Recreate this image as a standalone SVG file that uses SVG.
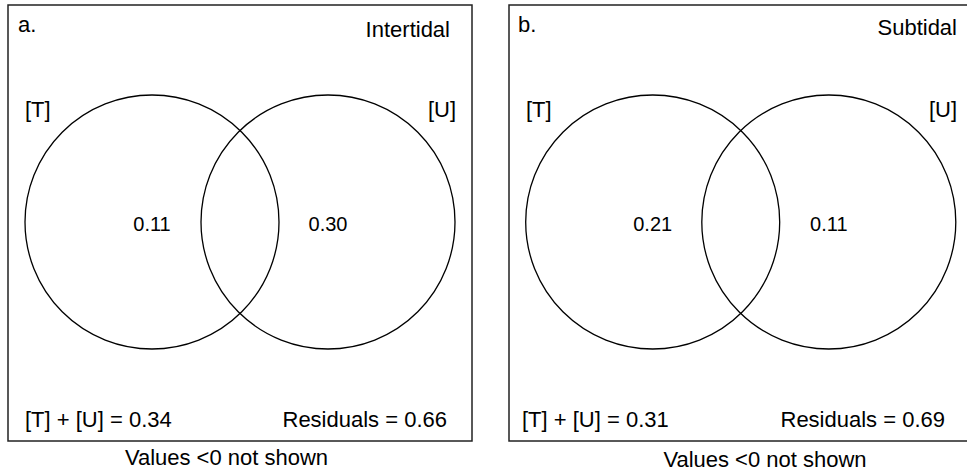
<svg xmlns="http://www.w3.org/2000/svg" width="967" height="471" viewBox="0 0 967 471">
<style>
text{font-family:"Liberation Sans",Arial,Helvetica,sans-serif;fill:#000}
.lb{font-size:22px}
.num{font-size:20px;text-anchor:middle}
.frame{fill:none;stroke:#222;stroke-width:1.5}
.set{fill:none;stroke:#000;stroke-width:1.3}
</style>
<rect width="967" height="471" fill="#fff"/>
<g id="panel-a">
<rect class="frame" x="8" y="5" width="464" height="436"/>
<text class="lb" x="18" y="32">a.</text>
<text class="lb" x="450" y="37" text-anchor="end">Intertidal</text>
<g id="a-T"><circle class="set" cx="152" cy="222" r="127"/><text class="lb" x="25" y="117">[T]</text><text class="num" x="152" y="231">0.11</text></g>
<g id="a-U"><circle class="set" cx="328" cy="222" r="127"/><text class="lb" x="456" y="117" text-anchor="end">[U]</text><text class="num" x="328" y="231">0.30</text></g>
<text class="lb" x="25" y="427">[T] + [U] = 0.34</text>
<text class="lb" x="447" y="427" text-anchor="end">Residuals = 0.66</text>
</g>
<text class="lb" x="226.5" y="465" text-anchor="middle">Values &lt;0 not shown</text>
<g id="panel-b">
<rect class="frame" x="509" y="5" width="464" height="436"/>
<text class="lb" x="518" y="32">b.</text>
<text class="lb" x="957" y="35" text-anchor="end">Subtidal</text>
<g id="b-T"><circle class="set" cx="652.7" cy="222" r="127"/><text class="lb" x="526" y="117">[T]</text><text class="num" x="652.7" y="231">0.21</text></g>
<g id="b-U"><circle class="set" cx="828.8" cy="222" r="127"/><text class="lb" x="957" y="117" text-anchor="end">[U]</text><text class="num" x="828.8" y="231">0.11</text></g>
<text class="lb" x="522" y="427">[T] + [U] = 0.31</text>
<text class="lb" x="945" y="427" text-anchor="end">Residuals = 0.69</text>
</g>
<text class="lb" x="765" y="467" text-anchor="middle">Values &lt;0 not shown</text>
</svg>
